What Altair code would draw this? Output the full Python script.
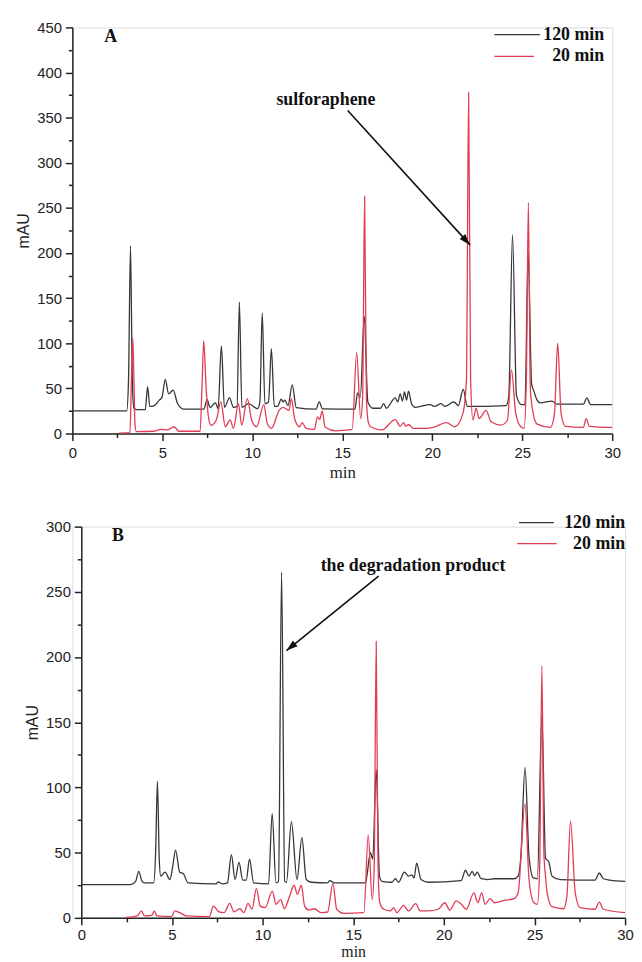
import math
import altair as alt
import pandas as pd

# ---------------- Panel A ----------------
a120_t = [0, 3.02, 3.12, 3.23, 3.33, 3.42, 3.6, 4.05, 4.18, 4.3, 4.55, 4.83, 4.98, 5.16, 5.35, 5.6, 5.85, 6.2,
          7.3, 7.49, 7.65, 7.95, 8.1, 8.28, 8.45, 8.73, 8.95, 9.15, 9.28, 9.42, 9.78, 10.3, 10.42, 10.55, 10.7,
          10.9, 11.06, 11.22, 11.4, 11.61, 11.7, 11.8, 11.98, 12.22, 12.44, 13.54, 13.72, 13.9, 15.7, 15.85, 16.0,
          16.22, 16.42, 16.7, 17.12, 17.3, 17.45, 17.94, 18.08, 18.22, 18.34, 18.46, 18.57, 18.68, 18.85, 19.05,
          19.9, 20.1, 20.5, 20.7, 21.2, 21.45, 21.72, 21.95, 24.1, 24.25, 24.46, 24.68, 24.96, 25.15, 25.33, 25.52,
          25.65, 25.8, 26.0, 26.66, 26.9, 28.4, 28.59, 28.8, 30]
a120_v = [25, 25, 60, 208, 60, 28, 26.5, 26.5, 52, 30, 31, 37, 40, 60, 44, 48, 33, 27,
          27, 37.5, 29, 34, 27.5, 97, 29, 39.5, 29, 30, 145.6, 29, 33, 27.6, 35, 133.6, 33,
          35, 94, 30, 30, 38, 35, 37, 31, 54, 28.7, 27, 35, 27.4, 27, 45, 40,
          130, 35, 28, 28, 33, 28, 39.5, 35, 44, 36, 46, 37, 47, 33, 29,
          32, 30, 33, 30, 35, 31, 48.8, 30, 31, 40, 220, 42, 32, 32, 200, 55,
          47, 38, 34, 36, 32.5, 32.5, 39.5, 32, 32]

a20_t = [2.6, 3.2, 3.28, 3.36, 3.42, 3.48, 3.56, 4.5, 4.92, 5.3, 5.65, 5.93, 7.1, 7.2, 7.3, 7.42, 7.55, 7.7,
         8.0, 8.25, 8.5, 8.77, 8.95, 9.23, 9.41, 9.72, 9.96, 10.24, 10.64, 10.83, 11.06, 11.49, 11.7, 12.04,
         12.17, 12.35, 12.62, 12.77, 12.99, 13.45, 13.62, 13.75, 13.88, 14.05, 14.64, 15.55, 15.8, 16.02,
         16.13, 16.24, 16.34, 16.45, 16.57, 17.2, 17.94, 18.22, 18.4, 18.53, 18.68, 18.95, 19.6, 20.05, 20.79,
         21.25, 21.7, 21.9, 22.02, 22.13, 22.26, 22.44, 22.6, 22.99, 23.27, 23.82, 24.18, 24.4, 24.64, 24.92,
         25.1, 25.23, 25.34, 25.45, 25.61, 25.83, 26.57, 26.79, 26.97, 27.16, 27.4, 28.4, 28.55, 28.73, 30]
a20_v = [0.5, 1, 60, 106, 60, 10, 2, 2.5, 4.6, 4, 7.5, 2.5, 2.5, 50, 103, 55, 20, 9,
         15, 35, 7.5, 15, 5.7, 33, 9.3, 38.6, 15, 7.5, 32, 11, 5.7, 25.7, 29, 25.7,
         38.6, 16.6, 7.5, 12, 5.7, 4.6, 18.5, 15.5, 25, 7, 3, 4.5, 89.6, 16.6,
         40, 263, 40, 12, 7.5, 4, 15.5, 8, 12, 8, 10, 5.7, 5.7, 6.8, 12,
         7.5, 22, 60, 378, 60, 15, 28, 16.6, 25.7, 13, 9.3, 15, 70.6, 22, 7.5,
         5.7, 60, 256, 50, 22, 10.4, 6.8, 22, 100, 22, 8, 6.8, 16.6, 8, 6.8]

# ---------------- Panel B ----------------
b120_t = [0, 2.72, 3.0, 3.17, 3.35, 3.48, 3.99, 4.1, 4.2, 4.3, 4.38, 4.62, 4.89, 5.05, 5.2, 5.43, 5.62, 5.89,
          7.43, 7.55, 7.8, 8.06, 8.28, 8.48, 8.7, 8.91, 9.1, 9.28, 9.51, 10.33, 10.53, 10.74, 10.88, 11.05,
          11.22, 11.32, 11.59, 11.9, 12.17, 12.41, 12.68, 13.59, 13.71, 13.95, 15.68, 15.95, 16.08, 16.27, 16.45,
          16.59, 17.14, 17.33, 17.5, 17.83, 18.05, 18.23, 18.36, 18.5, 18.74, 19.14, 20.96, 21.19, 21.39, 21.56,
          21.7, 21.84, 22.06, 22.42, 22.79, 23.88, 24.1, 24.25, 24.48, 24.7, 24.94, 25.16, 25.41, 25.61, 25.79,
          25.97, 26.43, 28.34, 28.58, 28.8, 29.16, 30]
b120_v = [25.5, 25.5, 28, 35.7, 28, 26.8, 26.8, 50, 104.8, 45, 32, 35, 29.4, 40, 52, 35, 34, 26.8,
          26, 27.6, 26, 26.8, 48.4, 29.4, 42.5, 28.9, 29, 45, 26.8, 26, 80, 26.8, 28, 265,
          28, 27.3, 73.7, 29.4, 61.5, 29.4, 27.3, 26.8, 28.6, 26.8, 26.8, 50, 45, 114, 32,
          28, 27.3, 30, 27.3, 35, 32, 33, 30.6, 42, 29.4, 27.3, 28.6, 36.5, 32, 35.7,
          32.4, 35, 30, 29.4, 30, 30, 32, 47, 115.4, 47, 30.6, 30, 155, 45.8, 43,
          32, 29.4, 29, 34.4, 30, 29, 28]

b20_t = [2.45, 3.08, 3.32, 3.48, 3.9, 4.02, 4.17, 4.98, 5.16, 5.43, 5.8, 7.07, 7.28, 7.6, 7.88, 8.19, 8.42,
         8.75, 8.97, 9.2, 9.42, 9.66, 9.87, 10.14, 10.54, 10.74, 11.0, 11.2, 11.5, 11.74, 11.92, 12.14, 12.32,
         12.55, 12.86, 13.22, 13.59, 13.88, 14.09, 14.49, 15.59, 15.83, 16.05, 16.16, 16.27, 16.37, 16.47,
         16.69, 17.05, 17.24, 17.41, 17.78, 18.05, 18.45, 18.69, 19.14, 19.69, 20.05, 20.33, 20.69, 20.97,
         21.24, 21.66, 21.88, 22.09, 22.28, 22.55, 22.79, 23.33, 23.88, 24.1, 24.48, 24.7, 24.97, 25.16,
         25.29, 25.41, 25.52, 25.61, 25.7, 25.97, 26.61, 26.79, 26.99, 27.25, 27.52, 28.34, 28.58, 28.8, 30]
b20_v = [0.3, 1.5, 5.3, 1.5, 2, 5.3, 1.5, 1, 5.3, 4, 1.5, 1, 9, 4.6, 4, 11.1, 4.6,
         7, 4, 11.1, 6.6, 22.5, 9, 7.8, 20.5, 10.4, 14, 7, 17, 25, 18, 25, 9,
         6, 7, 4, 4.5, 26.5, 6.6, 3.5, 4, 63.5, 14, 40, 212, 40, 11.6,
         6.6, 5.3, 7.8, 4, 9.6, 5.3, 10.9, 5.3, 5.3, 6.6, 11.6, 6, 13, 10.4,
         6.6, 19.2, 11.6, 19.2, 10.4, 14.7, 11.6, 13.4, 14.7, 19.2, 87.6, 29.4, 11.6, 10.4,
         40, 193, 50, 32, 19.2, 8.6, 7, 16.7, 74.4, 19.2, 7.8, 6.6, 12, 6.6, 4]

# ---------------- labels / annotations ----------------
series_names = ["120 min", "20 min"]
series_colors = ["#363636", "#e23c55"]
panel_names = ["A", "B"]
annot_names = ["sulforaphene", "the degradation product"]

x_tick_values = [0, 2.5, 5, 7.5, 10, 12.5, 15, 17.5, 20, 22.5, 25, 27.5, 30]
ya_tick_values = [0, 25, 50, 75, 100, 125, 150, 175, 200, 225, 250, 275, 300, 325, 350, 375, 400, 425, 450]
yb_tick_values = [0, 25, 50, 75, 100, 125, 150, 175, 200, 225, 250, 275, 300]

SERIF = "Liberation Serif"
SANS = "Liberation Sans"
AXC = "#222222"


def make_panel(cfg):
    W, H = cfg["W"], cfg["H"]
    xdom, ydom = [0, 30], [0, cfg["ymax"]]
    xr0 = cfg["xr0"]
    xscale = alt.Scale(domain=xdom, range=[xr0, W], nice=False, zero=False)
    yscale = alt.Scale(domain=ydom, nice=False)
    xaxis = alt.Axis(values=x_tick_values,
                     labelExpr="datum.value % 5 === 0 ? datum.label : ''",
                     tickSize={"condition": {"test": "datum.value % 5 === 0", "value": 7}, "value": 4},
                     grid=False, domainColor=AXC, tickColor=AXC, domainWidth=1.5, tickWidth=1.5,
                     labelFont=SANS, labelFontSize=15, labelColor=AXC, labelPadding=cfg["xlp"],
                     labelFlush=False, labelOverlap=False,
                     titleFont=SERIF, titleFontSize=cfg["xtfs"], titleFontWeight="normal", titleColor=AXC,
                     titlePadding=cfg["xtp"])
    yaxis = alt.Axis(values=cfg["yticks"],
                     labelExpr="datum.value % 50 === 0 ? datum.label : ''",
                     tickSize={"condition": {"test": "datum.value % 50 === 0", "value": 7}, "value": 4},
                     grid=False, domainColor=AXC, tickColor=AXC, domainWidth=1.5, tickWidth=1.5,
                     labelFont=SANS, labelFontSize=15, labelColor=AXC, labelPadding=4,
                     labelFlush=False, labelOverlap=False,
                     titleFont=SANS, titleFontSize=16, titleFontWeight="normal", titleColor=AXC,
                     titlePadding=5, offset=-xr0)

    def X(f="t"):
        return alt.X(f"{f}:Q", scale=xscale, axis=xaxis, title="min")

    def Y(f="v"):
        return alt.Y(f"{f}:Q", scale=yscale, axis=yaxis, title="mAU")

    layers = []
    for (tt, vv), name, col in zip(cfg["series"], series_names, series_colors):
        df = pd.DataFrame({"t": tt, "v": vv})
        layers.append(alt.Chart(df).mark_line(color=col, strokeWidth=1.3, interpolate="monotone")
                      .encode(x=X(), y=Y()))

    # panel letter
    pl = pd.DataFrame({"t": [cfg["pl"][0]], "v": [cfg["pl"][1]], "s": [cfg["name"]]})
    layers.append(alt.Chart(pl).mark_text(font=SERIF, fontSize=18, fontWeight="bold", color="#111")
                  .encode(x=X(), y=Y(), text="s:N"))

    # annotation text
    an = pd.DataFrame({"t": [cfg["annot"][0]], "v": [cfg["annot"][1]], "s": [cfg["annot_text"]]})
    layers.append(alt.Chart(an).mark_text(font=SERIF, fontSize=18, fontWeight="bold", color="#111")
                  .encode(x=X(), y=Y(), text="s:N"))

    # arrow
    (t1, v1), (t2, v2) = cfg["arrow"]
    ar = pd.DataFrame({"t": [t1], "v": [v1], "t2": [t2], "v2": [v2]})
    layers.append(alt.Chart(ar).mark_rule(color="#111", strokeWidth=1.6)
                  .encode(x=X(), y=Y(), x2=alt.X2("t2"), y2=alt.Y2("v2")))
    dx = (t2 - t1) * (W - xr0) / 30.0
    dy = -(v2 - v1) * H / cfg["ymax"]
    ang = (math.degrees(math.atan2(dy, dx)) + 90) % 360
    tip = pd.DataFrame({"t": [t2], "v": [v2]})
    layers.append(alt.Chart(tip).mark_point(shape="M0,0L-0.33,1L0.33,1Z", filled=True, size=520,
                                            angle=ang, color="#111", opacity=1, strokeWidth=0)
                  .encode(x=X(), y=Y()))

    # legend
    lg = cfg["legend"]
    for i, (name, col) in enumerate(zip(series_names, series_colors)):
        ldf = pd.DataFrame({"t": [lg["t0"][i]], "t2": [lg["t1"][i]], "v": [lg["v"][i]],
                            "tx": [lg["tx"]], "s": [name]})
        layers.append(alt.Chart(ldf).mark_rule(color=col, strokeWidth=1.3)
                      .encode(x=X(), x2=alt.X2("t2"), y=Y()))
        layers.append(alt.Chart(ldf).mark_text(font=SERIF, fontSize=18, fontWeight="bold",
                                               color="#111", align="right")
                      .encode(x=X("tx"), y=Y(), text="s:N"))

    return alt.layer(*layers).properties(width=W, height=H)


panelA = make_panel({
    "name": "A", "W": 545, "H": 410, "xr0": 0, "ymax": 450, "yticks": ya_tick_values,
    "xlp": 5, "xtp": 4, "xtfs": 17,
    "series": [(a120_t, a120_v), (a20_t, a20_v)],
    "pl": (2.13, 439), "annot": (14.09, 369), "annot_text": annot_names[0],
    "arrow": ((15.3, 358), (22.1, 209)),
    "legend": {"t0": [23.45, 23.45], "t1": [25.98, 25.65], "v": [442, 418], "tx": 29.55},
})

panelB = make_panel({
    "name": "B", "W": 558, "H": 395, "xr0": 9, "ymax": 300, "yticks": yb_tick_values,
    "xlp": 3, "xtp": 1, "xtfs": 16,
    "series": [(b120_t, b120_v), (b20_t, b20_v)],
    "pl": (2.02, 292.6), "annot": (18.3, 270), "annot_text": annot_names[1],
    "arrow": ((16.4, 262), (11.32, 205)),
    "legend": {"t0": [24.15, 24.04], "t1": [26.07, 26.23], "v": [303, 287], "tx": 30.0},
})

chart = alt.vconcat(panelA, panelB, spacing=32).properties(
    padding={"left": 7, "top": 7, "right": 0, "bottom": 0}
).configure_view(stroke=None).configure(background="white")

chart.save("out.html", embed_options={"renderer": "svg", "actions": False})
